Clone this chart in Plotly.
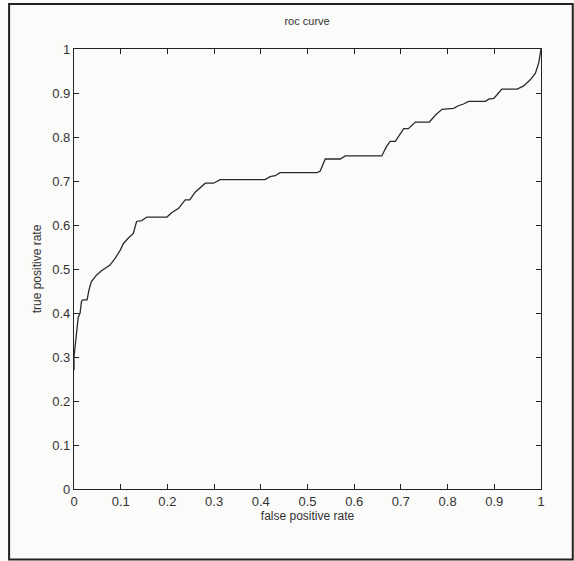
import plotly.graph_objects as go

fpr = [0.0, 0.0, 0.003, 0.006, 0.009, 0.013, 0.016, 0.019, 0.028, 0.032, 0.037, 0.048, 0.059,
       0.077, 0.088, 0.099, 0.106, 0.116, 0.127, 0.134, 0.145, 0.156, 0.199, 0.209, 0.224,
       0.238, 0.248, 0.259, 0.270, 0.281, 0.299, 0.313, 0.409, 0.420, 0.431, 0.441, 0.520,
       0.527, 0.538, 0.570, 0.581, 0.659, 0.669, 0.677, 0.688, 0.699, 0.706, 0.716, 0.731,
       0.761, 0.774, 0.788, 0.813, 0.823, 0.834, 0.845, 0.881, 0.888, 0.899, 0.906, 0.916,
       0.949, 0.963, 0.977, 0.988, 0.995, 0.999, 1.0]
tpr = [0.27, 0.30, 0.33, 0.36, 0.39, 0.40, 0.426, 0.43, 0.43, 0.452, 0.471, 0.486, 0.496,
       0.509, 0.524, 0.543, 0.558, 0.570, 0.581, 0.608, 0.610, 0.618, 0.618, 0.628, 0.638,
       0.657, 0.657, 0.674, 0.684, 0.695, 0.695, 0.703, 0.703, 0.710, 0.712, 0.719, 0.719,
       0.722, 0.750, 0.750, 0.757, 0.757, 0.778, 0.790, 0.790, 0.809, 0.819, 0.819, 0.834,
       0.834, 0.850, 0.863, 0.865, 0.871, 0.875, 0.881, 0.881, 0.886, 0.888, 0.896, 0.909,
       0.909, 0.916, 0.930, 0.945, 0.968, 0.995, 1.0]

tick_vals = [0, 0.1, 0.2, 0.3, 0.4, 0.5, 0.6, 0.7, 0.8, 0.9, 1]
tick_text = ["0", "0.1", "0.2", "0.3", "0.4", "0.5", "0.6", "0.7", "0.8", "0.9", "1"]

fig = go.Figure()
fig.add_trace(go.Scatter(x=fpr, y=tpr, mode="lines",
                         line=dict(color="#2a2a2a", width=1.3), showlegend=False))

font = "Liberation Sans, Arial, sans-serif"
axis_common = dict(range=[0, 1], tickvals=tick_vals, ticktext=tick_text,
                   showgrid=False, zeroline=False, showline=True, linecolor="#222",
                   linewidth=1.2, mirror="ticks", ticks="inside", ticklen=5,
                   tickcolor="#222", tickfont=dict(family=font, size=13, color="#333"))

fig.update_layout(
    width=574, height=561,
    margin=dict(l=74, r=33, t=49, b=72),
    paper_bgcolor="#fbfbfa", plot_bgcolor="#fbfbfa",
    title=dict(text="roc curve", x=0.535, xanchor="center", y=0.962, yanchor="middle",
               font=dict(family=font, size=11, color="#333")),
    xaxis=dict(**axis_common, title=dict(text="false positive rate", standoff=3,
                                         font=dict(family=font, size=12, color="#333"))),
    yaxis=dict(**axis_common, title=dict(text="true positive rate", standoff=8,
                                         font=dict(family=font, size=12, color="#333"))),
)
fig.add_shape(type="rect", xref="paper", yref="paper",
              x0=-0.139, x1=1.068, y0=-0.16, y1=1.102,
              line=dict(color="#222", width=2))
fig.write_html("out.html")
